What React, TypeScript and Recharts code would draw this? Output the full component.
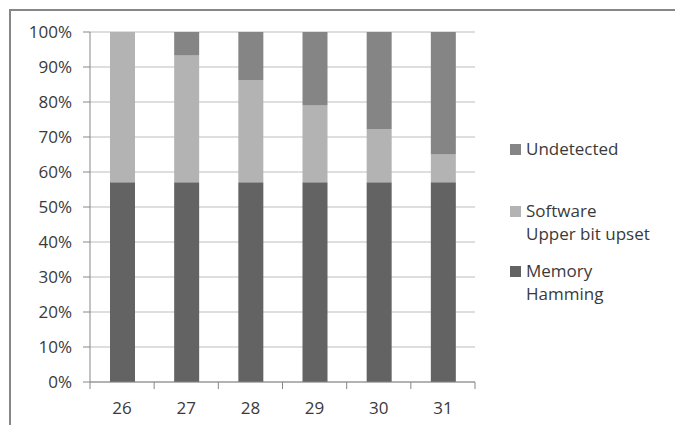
import { BarChart, Bar, XAxis, YAxis, CartesianGrid, Legend } from 'recharts'

const categories = ['26', '27', '28', '29', '30', '31']
const memoryHamming = [57.1, 57.1, 57.1, 57.1, 57.1, 57.1]
const softwareUpset = [42.9, 36.3, 29.2, 21.9, 15.2, 8.0]
const undetected = [0, 6.6, 13.7, 21.0, 27.7, 34.9]
const yTicks = [0, 10, 20, 30, 40, 50, 60, 70, 80, 90, 100]

const data = categories.map((c, i) => ({
  name: c,
  memory: memoryHamming[i],
  software: softwareUpset[i],
  undetected: undetected[i],
}))

const FONT = '"Open Sans", "DejaVu Sans", sans-serif'
const AXIS = '#878787'
const GRID = '#bdbdbd'
const TEXT = '#3a3a3a'

const legendItems = [
  { color: '#858585', lines: ['Undetected'], top: 137 },
  { color: '#b3b3b3', lines: ['Software', 'Upper bit upset'], top: 199 },
  { color: '#636363', lines: ['Memory', 'Hamming'], top: 259 },
]

function LegendBox() {
  return (
    <div style={{ position: 'absolute', left: 0, top: 0 }}>
      {legendItems.map((it) => (
        <div
          key={it.lines[0]}
          style={{
            position: 'absolute',
            left: 510,
            top: it.top,
            fontFamily: FONT,
            fontSize: 17,
            lineHeight: '23px',
            color: TEXT,
            whiteSpace: 'nowrap',
          }}
        >
          <span
            style={{
              display: 'inline-block',
              width: 11,
              height: 11,
              background: it.color,
              marginRight: 5,
              verticalAlign: 'middle',
              position: 'relative',
              top: -1,
            }}
          />
          {it.lines[0]}
          {it.lines[1] && <div style={{ marginLeft: 16 }}>{it.lines[1]}</div>}
        </div>
      ))}
    </div>
  )
}

// category tick: label centred, tick marks on band boundaries
function XTick(props: any) {
  const { x, y, payload, index } = props
  const band = 385 / categories.length
  const left = x - band / 2
  return (
    <g>
      <line x1={left} y1={y - 8} x2={left} y2={y - 1} stroke={AXIS} />
      {index === categories.length - 1 && (
        <line x1={x + band / 2} y1={y - 8} x2={x + band / 2} y2={y - 1} stroke={AXIS} />
      )}
      <text x={x} y={y + 24} textAnchor="middle" fontFamily={FONT} fontSize={17} fill={TEXT}>
        {payload.value}
      </text>
    </g>
  )
}

export default function App() {
  return (
    <div style={{ position: 'absolute', left: 0, top: 0, width: 675, height: 425, background: '#fff' }}>
      <div style={{ position: 'absolute', left: 9, top: 9, width: 666, height: 2, background: AXIS }} />
      <div style={{ position: 'absolute', left: 9, top: 9, width: 2, height: 416, background: AXIS }} />
      <BarChart
        width={675}
        height={425}
        data={data}
        margin={{ top: 32, right: 200, left: 10, bottom: 13 }}
        barCategoryGap="30%"
      >
        <CartesianGrid stroke={GRID} vertical={false} />
        <XAxis
          dataKey="name"
          tick={<XTick />}
          tickLine={false}
          axisLine={{ stroke: AXIS }}
          height={30}
          interval={0}
        />
        <YAxis
          domain={[0, 100]}
          ticks={yTicks}
          tickFormatter={(v) => `${v}%`}
          tick={{ fontSize: 17, fill: TEXT, fontFamily: FONT }}
          tickLine={{ stroke: AXIS }}
          tickSize={7}
          tickMargin={11}
          axisLine={{ stroke: AXIS }}
          width={80}
          interval={0}
        />
        <Bar dataKey="memory" stackId="a" fill="#636363" barSize={25} isAnimationActive={false} />
        <Bar dataKey="software" stackId="a" fill="#b3b3b3" barSize={25} isAnimationActive={false} />
        <Bar dataKey="undetected" stackId="a" fill="#858585" barSize={25} isAnimationActive={false} />
        <Legend content={() => null} />
      </BarChart>
      <LegendBox />
    </div>
  )
}
